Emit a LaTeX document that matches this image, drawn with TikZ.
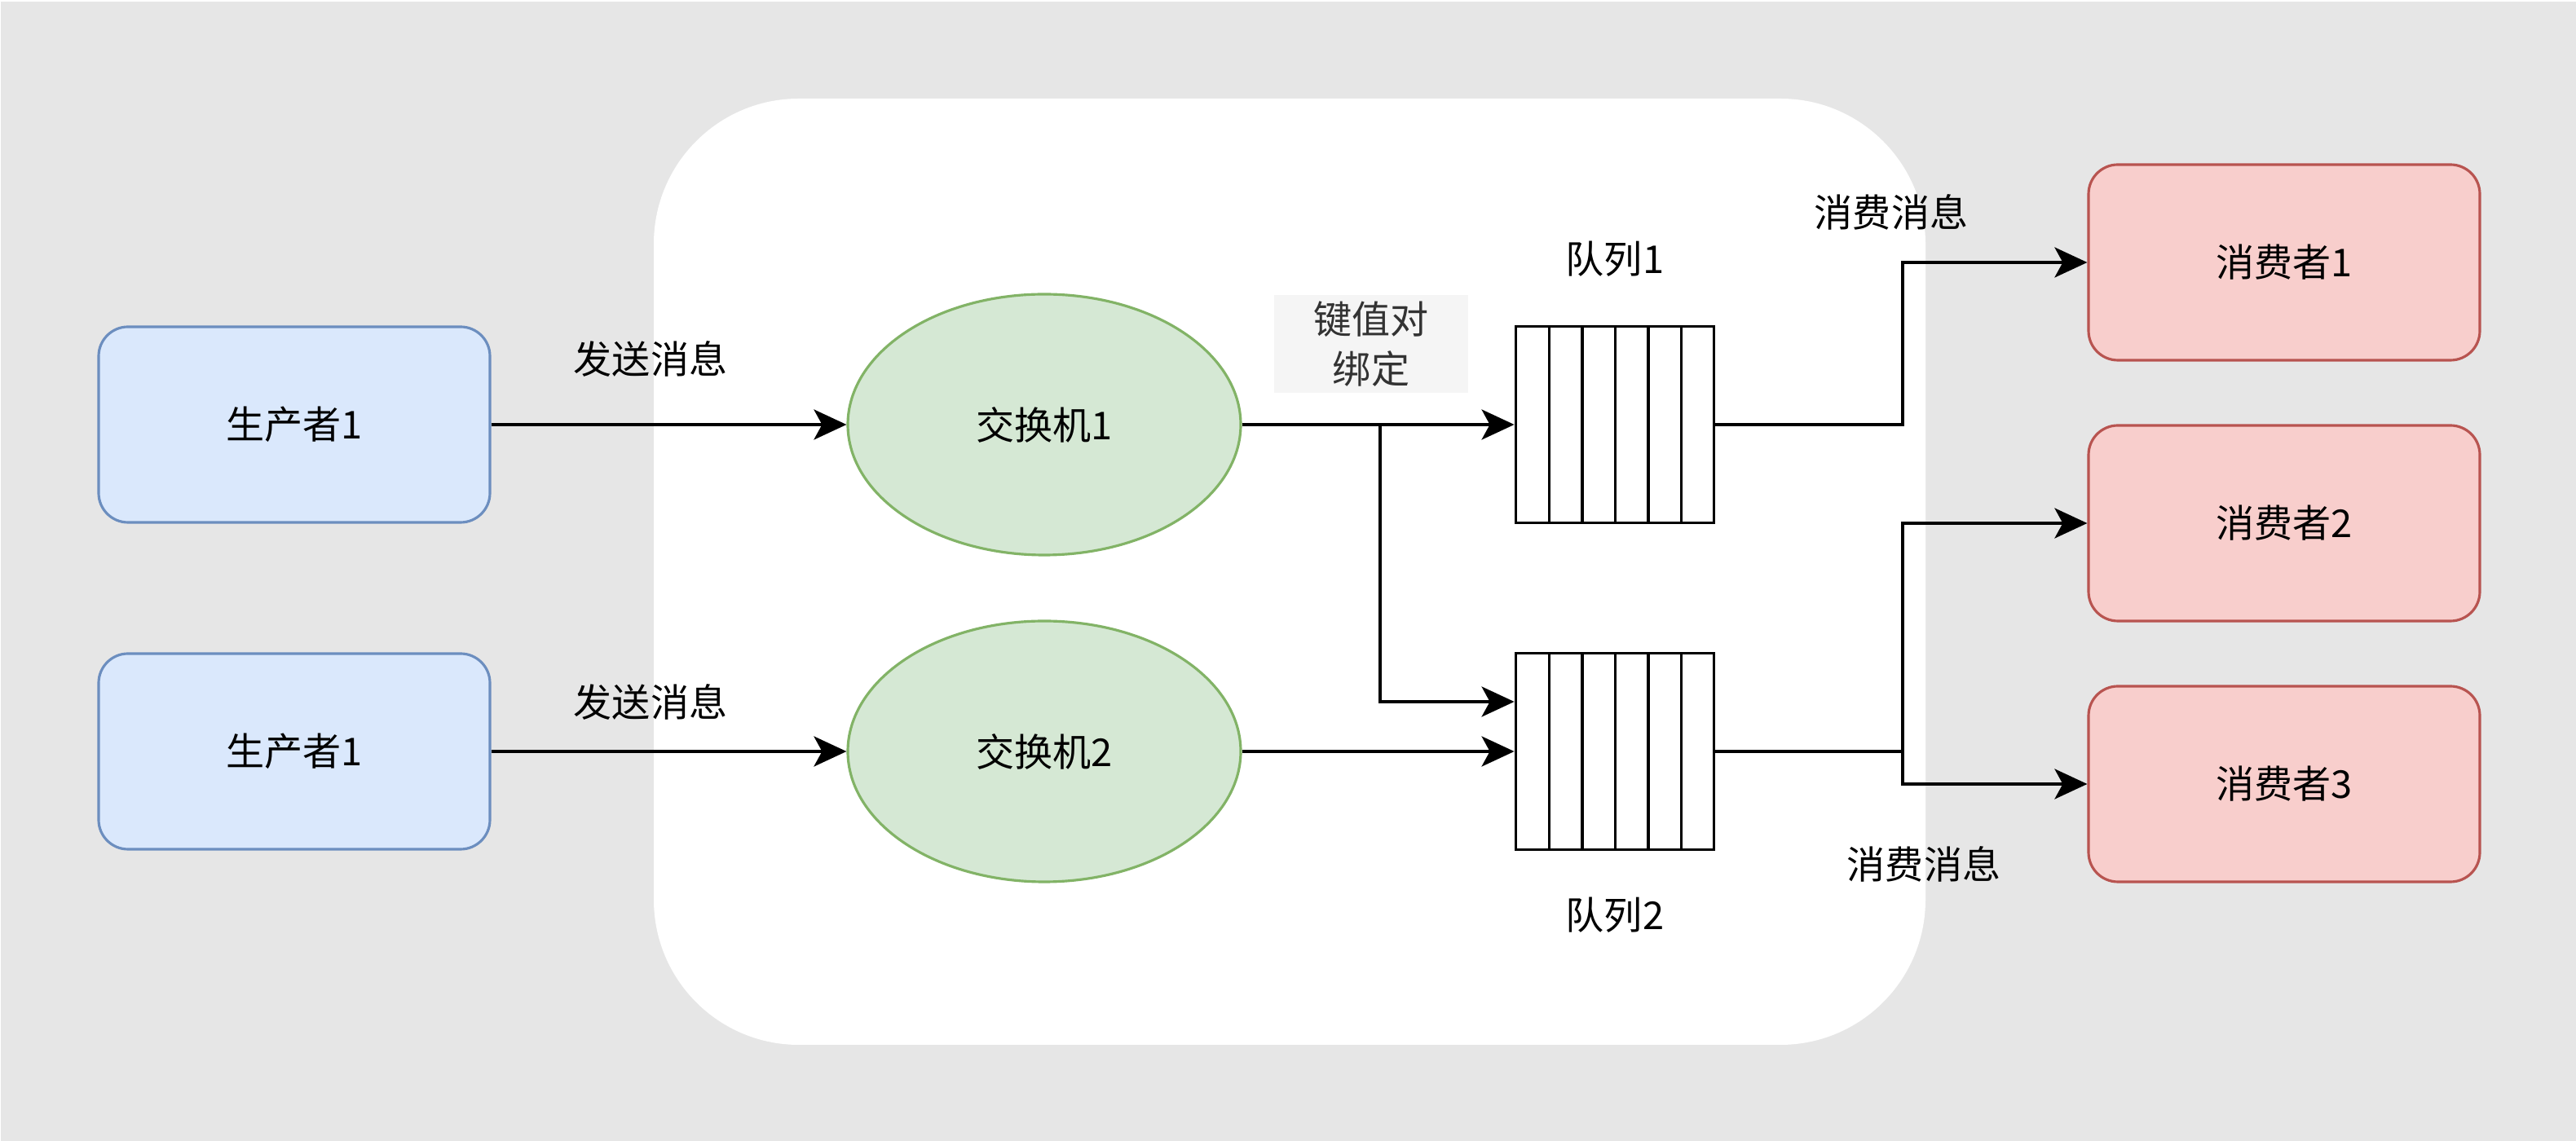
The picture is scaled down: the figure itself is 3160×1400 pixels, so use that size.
\documentclass[tikz,border=0pt]{standalone}
\usepackage{fontspec}
\setmainfont{Noto Sans CJK SC}
\usetikzlibrary{arrows.meta,shapes.geometric}
\definecolor{fondgris}{HTML}{E6E6E6}
\definecolor{prodfond}{HTML}{DAE8FC}
\definecolor{prodtrait}{HTML}{6C8EBF}
\definecolor{echfond}{HTML}{D5E8D4}
\definecolor{echtrait}{HTML}{82B366}
\definecolor{consfond}{HTML}{F8CECC}
\definecolor{constrait}{HTML}{B85450}
\definecolor{liengris}{HTML}{F5F5F5}
\definecolor{lientexte}{HTML}{333333}

\begin{document}
\begin{tikzpicture}[x=0.1mm, y=-0.1mm, font=\fontsize{13.4}{17.4}\selectfont]
\tikzset{prodnoeud/.style={draw=prodtrait, fill=prodfond, line width=0.9pt, rounded corners=3.6mm, minimum width=4.8cm, minimum height=2.4cm}}
\tikzset{echnoeud/.style={draw=echtrait, fill=echfond, line width=0.9pt, ellipse, minimum width=4.82cm, minimum height=3.2cm}}
\tikzset{consnoeud/.style={draw=constrait, fill=consfond, line width=0.9pt, rounded corners=3.6mm, minimum width=4.8cm, minimum height=2.4cm}}
\tikzset{filenoeud/.style={draw, fill=white, line width=1.1pt, minimum width=2.43cm, minimum height=2.41cm}}
\tikzset{fleche/.style={line width=1.1pt, -{Stealth[length=4mm, width=3.7mm, inset=1mm]}}}
\useasboundingbox (0,0) rectangle (3160,1400);
\fill[white] (0,0) rectangle (3160,1400);
\fill[fondgris] (1,2) rectangle (3160,1400);
\fill[white, rounded corners=17.8mm] (802,121) rectangle (2362,1282);
\node[prodnoeud] (P1) at (361,521) {生产者1};
\node[prodnoeud] (P2) at (361,922) {生产者1};
\node[echnoeud] (E1) at (1281,521) {交换机1};
\node[echnoeud] (E2) at (1281,922) {交换机2};
\node[filenoeud] (Q1) at (1981,521) {};
\node[filenoeud] (Q2) at (1981,922) {};
\foreach \i in {1,...,5} {
  \draw[line width=1.1pt] (1860+\i*40.5,401) -- (1860+\i*40.5,642);
  \draw[line width=1.1pt] (1860+\i*40.5,802) -- (1860+\i*40.5,1043);
}
\node[consnoeud] (C1) at (2802,322) {消费者1};
\node[consnoeud] (C2) at (2802,642) {消费者2};
\node[consnoeud] (C3) at (2802,962) {消费者3};
\node (envoi1) at (798,440) {发送消息};
\node (envoi2) at (798,861) {发送消息};
\node[fill=liengris, text=lientexte, align=center, minimum width=2.38cm, minimum height=1.2cm, inner sep=0pt] (lien) at (1682,422) {键值对\\绑定};
\node (file1) at (1981,318) {队列1};
\node (file2) at (1981,1123) {队列2};
\node (conso1) at (2320,260) {消费消息};
\node (conso2) at (2360,1060) {消费消息};
\coordinate (b1) at (1693,861);
\coordinate (j1) at (2334,521);
\coordinate (j2) at (2334,922);
\draw[fleche] (P1) -- (E1);
\draw[fleche] (P2) -- (E2);
\draw[fleche] (E1) -- (Q1);
\draw[fleche] (E1.east) -| (b1) -- (b1 -| Q2.west);
\draw[fleche] (E2) -- (Q2);
\draw[fleche] (Q1.east) -- (j1) |- (C1);
\draw[line width=1.1pt] (Q2.east) -- (j2);
\draw[fleche] (j2) |- (C2);
\draw[fleche] (j2) |- (C3);
\end{tikzpicture}
\end{document}
